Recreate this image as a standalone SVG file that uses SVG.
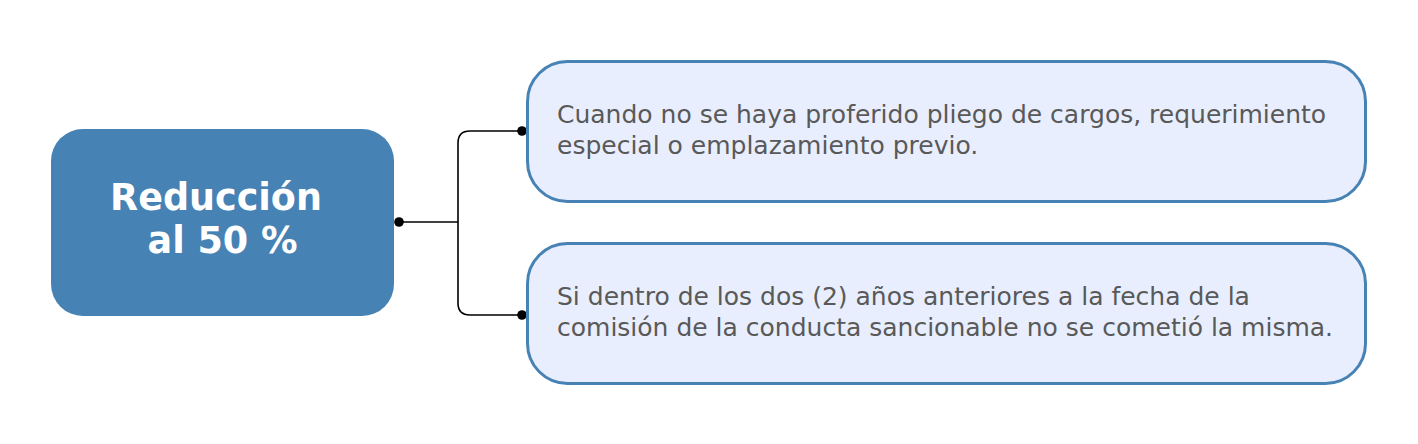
<svg xmlns="http://www.w3.org/2000/svg" width="1418" height="444" viewBox="0 0 1418 444">
<style>
.main{fill:#4682B4;}
.leaf{fill:#E8EEFD;stroke:#4682B4;stroke-width:3;}
.mt{font-family:"DejaVu Sans",sans-serif;font-weight:bold;font-size:36.5px;fill:#ffffff;text-anchor:middle;}
.lt{font-family:"DejaVu Sans",sans-serif;font-size:25px;fill:#595959;}
.conn{fill:none;stroke:#000;stroke-width:1.6;}
</style>
<rect width="1418" height="444" fill="#ffffff"/>
<g id="connectors">
<path class="conn" d="M399,222 H458"/>
<path class="conn" d="M522,131 H470 Q458,131 458,143 V303 Q458,315 470,315 H522"/>
<circle cx="399" cy="222" r="4.8"/>
<circle cx="522" cy="131" r="4.8"/>
<circle cx="522" cy="315" r="4.8"/>
</g>
<g id="node-main">
<rect class="main" x="51" y="129" width="343" height="187" rx="32"/>
<text class="mt" x="216" y="210">Reducción</text>
<text class="mt" x="222.5" y="253">al 50 %</text>
</g>
<g id="node-1">
<rect class="leaf" x="527.5" y="61.5" width="838" height="140" rx="40"/>
<text class="lt" x="557" y="123">Cuando no se haya proferido pliego de cargos, requerimiento</text>
<text class="lt" x="557" y="153.5">especial o emplazamiento previo.</text>
</g>
<g id="node-2">
<rect class="leaf" x="527.5" y="243.5" width="838" height="140" rx="40"/>
<text class="lt" x="557" y="305">Si dentro de los dos (2) años anteriores a la fecha de la</text>
<text class="lt" x="557" y="335.5">comisión de la conducta sancionable no se cometió la misma.</text>
</g>
</svg>
